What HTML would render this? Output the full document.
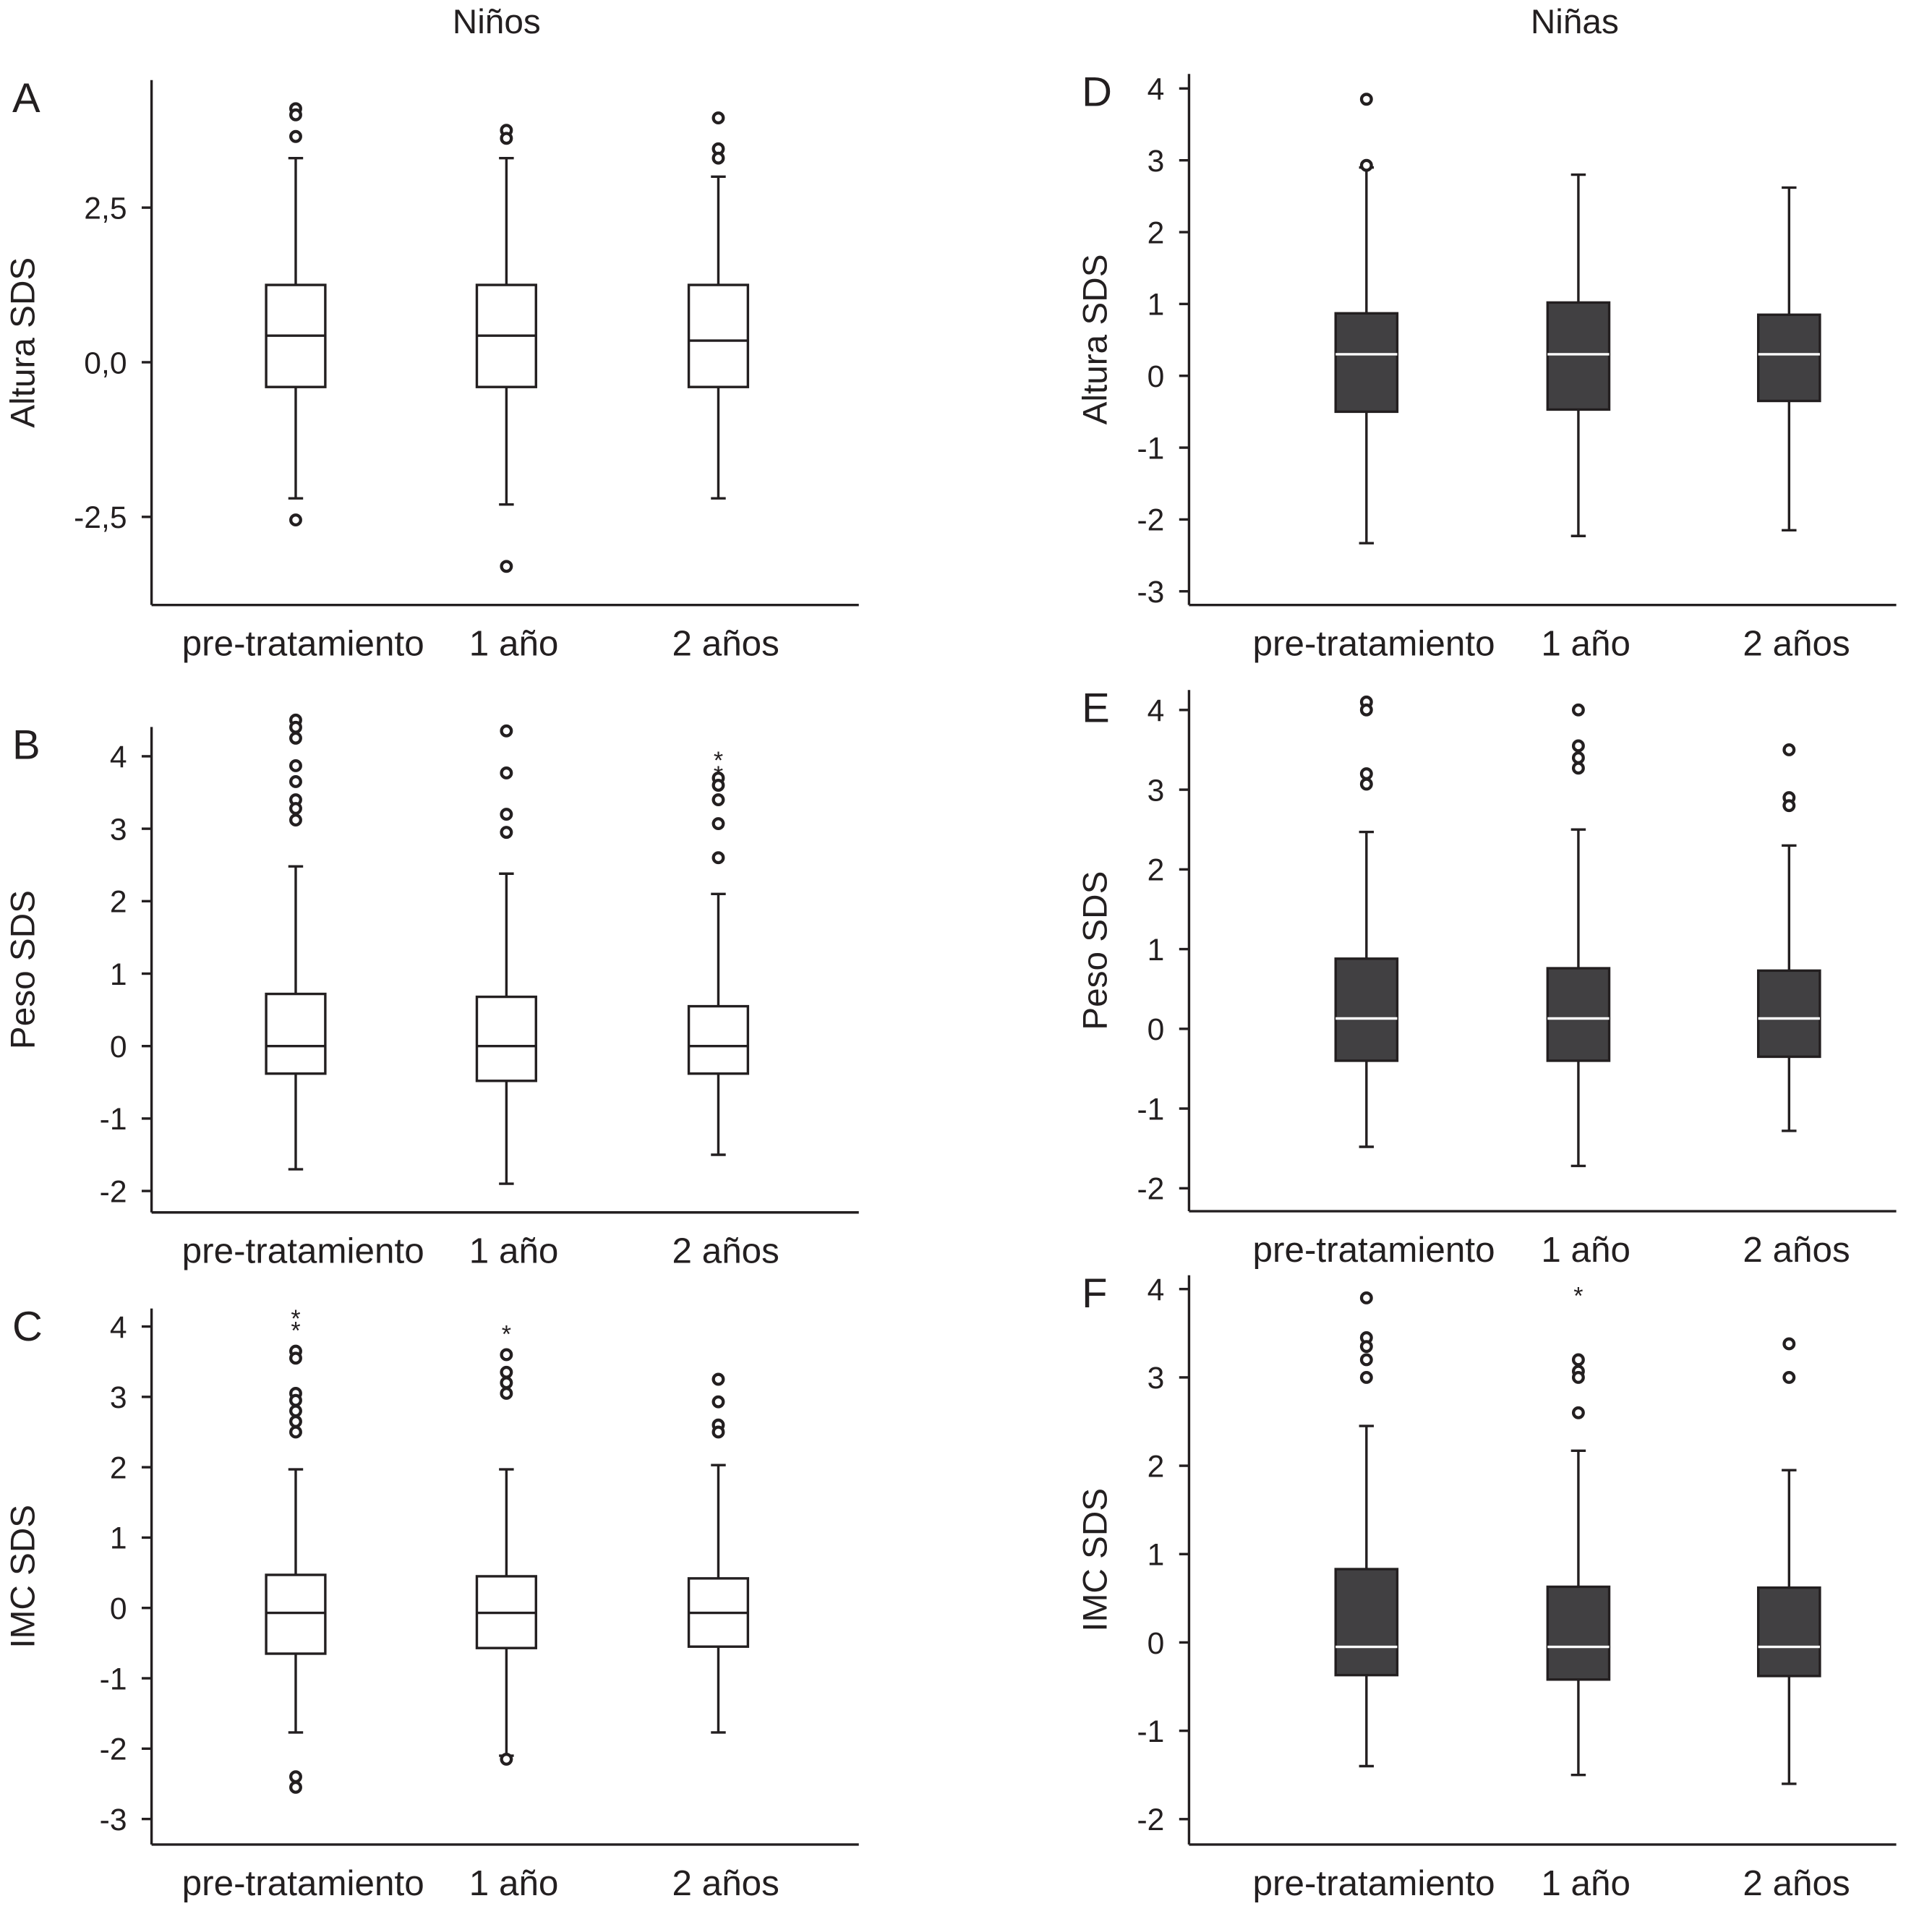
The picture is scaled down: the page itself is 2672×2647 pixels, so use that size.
<!DOCTYPE html>
<html><head><meta charset="utf-8"><style>
html,body{margin:0;padding:0;background:#fff}
svg{display:block}
text{font-family:"Liberation Sans",sans-serif;fill:#231f20}
</style></head><body>
<svg id="chart" width="2672" height="2647" viewBox="0 0 1568 1553.4" preserveAspectRatio="none" xmlns="http://www.w3.org/2000/svg">
<text x="403" y="27" font-size="28" text-anchor="middle">Niños</text>
<text x="1278" y="27" font-size="28" text-anchor="middle">Niñas</text>
</svg>
<script>
const categories = ["pre-tratamiento","1 año","2 años"];
// stats per group: [whiskerLow, q1, median, q3, whiskerHigh]
const statsA = [[-2.2,-0.4,0.43,1.25,3.3],[-2.3,-0.4,0.43,1.25,3.3],[-2.2,-0.4,0.35,1.25,3.0]];
const outliersA = [[4.1,4.0,3.65,-2.55],[3.75,3.62,-3.3],[3.95,3.45,3.3]];
const starsA = [[],[],[]];
const ticksA = [2.5,0,-2.5];
const tickLabelsA = ["2,5","0,0","-2,5"];

const statsB = [[-1.7,-0.38,0,0.72,2.48],[-1.9,-0.48,0,0.68,2.38],[-1.5,-0.38,0,0.55,2.1]];
const outliersB = [[4.5,4.4,4.25,3.87,3.65,3.4,3.28,3.12],[4.35,3.77,3.2,2.95],[3.7,3.6,3.4,3.07,2.6]];
const starsB = [[],[],[4.0,3.8]];
const ticksB = [4,3,2,1,0,-1,-2];
const tickLabelsB = ["4","3","2","1","0","-1","-2"];

const statsC = [[-1.77,-0.65,-0.07,0.47,1.97],[-2.1,-0.57,-0.07,0.45,1.97],[-1.77,-0.55,-0.07,0.42,2.03]];
const outliersC = [[3.65,3.55,3.05,2.95,2.8,2.65,2.5,-2.4,-2.55],[3.6,3.35,3.2,3.05,-2.15],[3.25,2.93,2.6,2.5]];
const starsC = [[4.17,4.0],[3.95],[]];
const ticksC = [4,3,2,1,0,-1,-2,-3];
const tickLabelsC = ["4","3","2","1","0","-1","-2","-3"];

const statsD = [[-2.33,-0.5,0.3,0.87,2.9],[-2.23,-0.47,0.3,1.02,2.8],[-2.15,-0.35,0.3,0.85,2.62]];
const outliersD = [[3.85,2.93],[],[]];
const starsD = [[],[],[]];
const ticksD = [4,3,2,1,0,-1,-2,-3];
const tickLabelsD = ["4","3","2","1","0","-1","-2","-3"];

const statsE = [[-1.48,-0.4,0.13,0.88,2.47],[-1.72,-0.4,0.13,0.76,2.5],[-1.28,-0.35,0.13,0.73,2.3]];
const outliersE = [[4.1,4.0,3.2,3.07],[4.0,3.55,3.4,3.27],[3.5,2.9,2.8]];
const starsE = [[],[],[]];
const ticksE = [4,3,2,1,0,-1,-2];
const tickLabelsE = ["4","3","2","1","0","-1","-2"];

const statsF = [[-1.4,-0.37,-0.05,0.83,2.45],[-1.5,-0.42,-0.05,0.63,2.17],[-1.6,-0.38,-0.05,0.62,1.95]];
const outliersF = [[3.9,3.45,3.35,3.2,3.0],[3.2,3.07,3.0,2.6],[3.38,3.0]];
const starsF = [[],[3.97],[]];
const ticksF = [4,3,2,1,0,-1,-2];
const tickLabelsF = ["4","3","2","1","0","-1","-2"];

const svg = document.getElementById('chart');
const NS = "http://www.w3.org/2000/svg";
function mk(tag, attrs, parent){const e=document.createElementNS(NS,tag);for(const k in attrs)e.setAttribute(k,attrs[k]);(parent||svg).appendChild(e);return e;}

function panel(id, letter, ylabel, layout, stats, outs, stars, ticks, tlabels, dark){
  const g = mk('g',{});
  
  
  const ax = layout.ax, top = layout.top, bot = layout.bot, right = ax + 574;
  const y = v => layout.y0 - v * layout.unit;
  const xs = layout.xs;
  const bw = dark ? 50 : 48;
  const ya = mk('line',{x1:ax,y1:top,x2:ax,y2:bot,stroke:'#231f20','stroke-width':2},g);
  
  
  const xa = mk('line',{x1:ax,y1:bot,x2:right,y2:bot,stroke:'#231f20','stroke-width':2},g);
  
  
  ticks.forEach((t,i)=>{
    mk('line',{x1:ax-8,y1:y(t),x2:ax,y2:y(t),stroke:'#231f20','stroke-width':2},g);
    const tl = mk('text',{x:ax-20,y:y(t)+9,'font-size':25,'text-anchor':'end'},g);
    tl.textContent = tlabels[i];
    
    
  });
  const lt = mk('text',{x:layout.lx,y:top+26,'font-size':34},g);
  lt.textContent = letter;
  
  
  const cy = (top+bot)/2;
  const yl = mk('text',{x:0,y:0,'font-size':28,'text-anchor':'middle',transform:`translate(${layout.ylx},${cy}) rotate(-90)`},g);
  yl.textContent = ylabel;
  
  
  categories.forEach((c,i)=>{
    const x = xs[i], s = stats[i];
    const cl = mk('text',{x:x+6,y:bot+41,'font-size':29,'text-anchor':'middle'},g);
    cl.textContent = c;
    
    
    const w = mk('line',{x1:x,y1:y(s[0]),x2:x,y2:y(s[4]),stroke:'#231f20','stroke-width':2},g);
    
    
    mk('line',{x1:x-6,y1:y(s[0]),x2:x+6,y2:y(s[0]),stroke:'#231f20','stroke-width':2},g);
    mk('line',{x1:x-6,y1:y(s[4]),x2:x+6,y2:y(s[4]),stroke:'#231f20','stroke-width':2},g);
    const b = mk('rect',{x:x-bw/2,y:y(s[3]),width:bw,height:y(s[1])-y(s[3]),fill:dark?'#414042':'#fff',stroke:'#231f20','stroke-width':2},g);
    
    
    const m = mk('line',{x1:x-bw/2,y1:y(s[2]),x2:x+bw/2,y2:y(s[2]),stroke:dark?'#fff':'#231f20','stroke-width':2},g);
    
    
    outs[i].forEach(v=>{
      const o = mk('circle',{cx:x,cy:y(v),r:4,fill:'#fff',stroke:'#231f20','stroke-width':2.5},g);
      
      
    });
    stars[i].forEach(v=>{
      const st = mk('text',{x:x,y:y(v)+10,'font-size':20,'text-anchor':'middle'},g);
      st.textContent = '*';
      
      
    });
  });
}
const L = [240,411,583], R = [1109,1281,1452];
panel('a','A','Altura SDS',{ax:123,top:65,bot:491,y0:294,unit:50.2,lx:10,ylx:28,xs:L},statsA,outliersA,starsA,ticksA,tickLabelsA,false);
panel('b','B','Peso SDS',{ax:123,top:590,bot:984,y0:849,unit:58.8,lx:10,ylx:28,xs:L},statsB,outliersB,starsB,ticksB,tickLabelsB,false);
panel('c','C','IMC SDS',{ax:123,top:1062,bot:1497,y0:1305,unit:57.1,lx:10,ylx:28,xs:L},statsC,outliersC,starsC,ticksC,tickLabelsC,false);
panel('d','D','Altura SDS',{ax:965,top:60,bot:491,y0:305,unit:58.3,lx:878,ylx:898,xs:R},statsD,outliersD,starsD,ticksD,tickLabelsD,true);
panel('e','E','Peso SDS',{ax:965,top:560,bot:983,y0:835,unit:64.7,lx:878,ylx:898,xs:R},statsE,outliersE,starsE,ticksE,tickLabelsE,true);
panel('f','F','IMC SDS',{ax:965,top:1035,bot:1497,y0:1333,unit:71.7,lx:878,ylx:898,xs:R},statsF,outliersF,starsF,ticksF,tickLabelsF,true);
</script>
</body></html>
